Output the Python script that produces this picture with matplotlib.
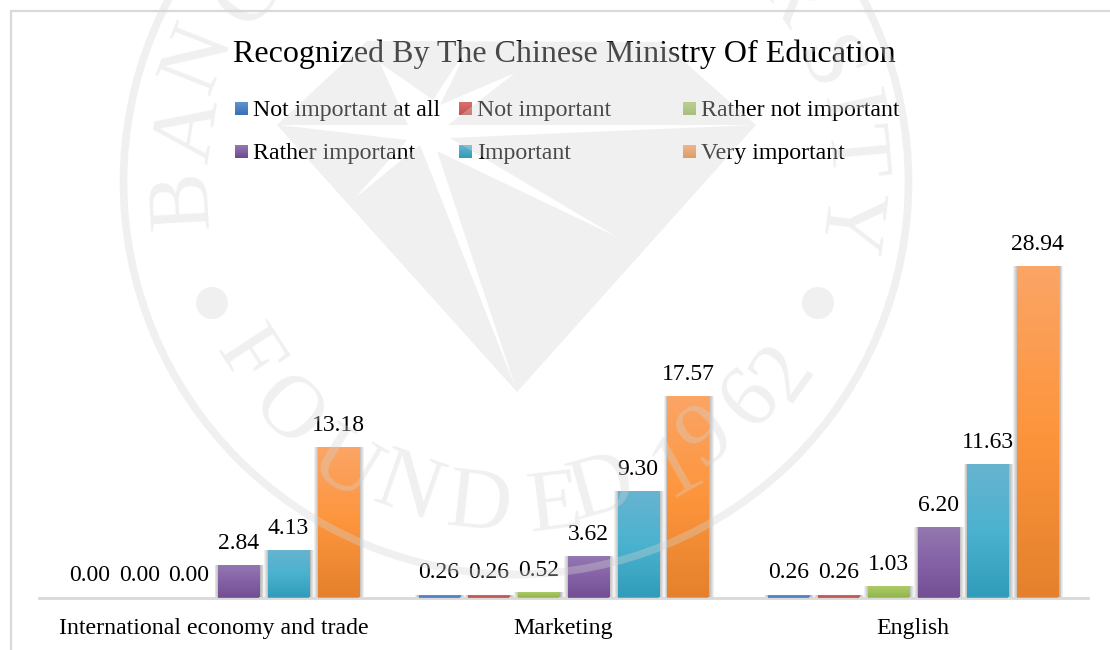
import numpy as np
import matplotlib
matplotlib.use('Agg')
import matplotlib.pyplot as plt
from matplotlib.colors import LinearSegmentedColormap
from matplotlib.patches import Circle, PathPatch
from matplotlib.path import Path

plt.rcParams['font.family'] = ['Liberation Serif', 'DejaVu Serif']

# Dados
title = 'Recognized By The Chinese Ministry Of Education'
categories = ['International economy and trade', 'Marketing', 'English']
series_names = ['Not important at all', 'Not important', 'Rather not important',
                'Rather important', 'Important', 'Very important']
not_important_at_all = [0.00, 0.26, 0.26]
not_important = [0.00, 0.26, 0.26]
rather_not_important = [0.00, 0.52, 1.03]
rather_important = [2.84, 3.62, 6.20]
important = [4.13, 9.30, 11.63]
very_important = [13.18, 17.57, 28.94]
all_series = [not_important_at_all, not_important, rather_not_important,
              rather_important, important, very_important]

# topo, meio, base do gradiente de cada serie
bar_colors = [
    ['#6d9bd6', '#5a8dcf', '#4f80c0'],
    ['#d96f6b', '#d0605c', '#c25450'],
    ['#aecb6c', '#a2c45c', '#93b54f'],
    ['#9479b0', '#8562a6', '#744f94'],
    ['#67b4cf', '#4bb2cf', '#319dba'],
    ['#fba566', '#fd953c', '#e5812c'],
]
legend_colors = [
    ['#5f94d2', '#3a70b5'],
    ['#d96f6b', '#c25450'],
    ['#aecb6c', '#93b54f'],
    ['#9479b0', '#6f4a90'],
    ['#67b4cf', '#319dba'],
    ['#fba566', '#e5812c'],
]
W, H = 1110, 650
fig = plt.figure(figsize=(W / 100, H / 100), dpi=100)
fig.patch.set_facecolor('white')


def fx(px):
    return px / W


def fy(py):
    return 1 - py / H


# eixo principal
base_y = 597.5
px_per_unit = 11.44
top_y = 11
ax = fig.add_axes([fx(39), fy(base_y), fx(1088 - 39), (base_y - top_y) / H])
ax.set_xlim(-0.5, 2.5)
ax.set_ylim(0, (base_y - top_y) / px_per_unit)
ax.patch.set_visible(False)
for s in ['top', 'left', 'right']:
    ax.spines[s].set_visible(False)
ax.spines['bottom'].set_color('#d9d9d9')
ax.spines['bottom'].set_linewidth(2.0)
ax.set_yticks([])
ax.set_xticks(range(len(categories)))
ax.set_xticklabels(categories, fontsize=17.2, color='black')
ax.tick_params(axis='x', length=0, pad=15)

pitch = 0.1424
width = 0.1173
for i, values in enumerate(all_series):
    x = np.arange(len(categories)) + (i - 2.5) * pitch
    cmap = LinearSegmentedColormap.from_list('g', bar_colors[i])
    for xi, v in zip(x, values):
        # sombra
        if v > 0:
            for k in range(1, 6):
                ax.bar(xi + 0.002, v + 0.16, bottom=-0.16, width=width + k * 0.005,
                       color='black', alpha=0.06, linewidth=0, zorder=2, clip_on=False)
            bar = ax.bar(xi, v, width=width, color=bar_colors[i][1], linewidth=0, zorder=3)[0]
            im = ax.imshow(np.linspace(0, 1, 64).reshape(-1, 1), cmap=cmap, aspect='auto',
                           extent=[xi - width / 2, xi + width / 2, 0, v], zorder=3.1)
            im.set_clip_path(bar)
        ax.annotate(f'{v:.2f}', (xi, v), xytext=(0, 15.5), textcoords='offset points',
                    ha='center', va='center', fontsize=17, color='black', zorder=5)
ax.set_xlim(-0.5, 2.5)
ax.set_ylim(0, (base_y - top_y) / px_per_unit)

# camada em pixels: borda, titulo, legenda, marca d'agua
ov = fig.add_axes([0, 0, 1, 1], zorder=10)
ov.set_xlim(0, W)
ov.set_ylim(H, 0)
ov.axis('off')
ov.patch.set_visible(False)

ov.plot([11, 11, W], [H, 11, 11], color='#d9d9d9', lw=1.6, solid_joinstyle='miter', zorder=1)
ov.text(233, 54, title, fontsize=23, color='black', va='center', ha='left', zorder=2)

legend_x = [235, 459, 683]
legend_y = [108.5, 151.5]
for i, name in enumerate(series_names):
    lx = legend_x[i % 3]
    ly = legend_y[i // 3]
    cmap = LinearSegmentedColormap.from_list('l', legend_colors[i])
    ov.imshow(np.linspace(0, 1, 16).reshape(-1, 1), cmap=cmap, aspect='auto',
              extent=[lx, lx + 13, ly + 6.5, ly - 6.5], origin='upper', zorder=2)
    ov.text(lx + 18, ly + 2, name, fontsize=17.2, color='black', va='center', ha='left', zorder=2)
ov.set_xlim(0, W)
ov.set_ylim(H, 0)

# marca d'agua por cima de tudo
wm_color = '#d4d4d4'
wm_alpha = 0.35
cx, cy = 516, 182
ov.add_patch(Circle((cx, cy), 392.5, fill=False, ec=wm_color, lw=5.5, alpha=wm_alpha, zorder=5))

# diamante com a estrela vazada
diamond = [(277, 125), (367, 41), (662, 42), (756, 125), (517, 392)]
star = [(279, 125), (408, 125), (380, 63), (433, 100), (470, 44), (440, 105), (515, 73),
        (448, 125), (753, 125), (450, 138), (617, 237), (437, 151), (516, 389),
        (420, 145), (355, 198), (407, 140)]
star = star[::-1]
verts = diamond + [diamond[0]] + star + [star[0]]
codes = ([Path.MOVETO] + [Path.LINETO] * (len(diamond) - 1) + [Path.CLOSEPOLY]
         + [Path.MOVETO] + [Path.LINETO] * (len(star) - 1) + [Path.CLOSEPOLY])
ov.add_patch(PathPatch(Path(verts, codes), fc=wm_color, ec='none', alpha=wm_alpha, zorder=5))

# pontos
for dot_x in [212, 818]:
    ov.add_patch(Circle((dot_x, 303), 16, fc=wm_color, ec='none', alpha=wm_alpha, zorder=5))

# letras do selo: em cima o topo da letra aponta para fora, embaixo para o centro
seal_letters = ['B', 'A', 'N', 'G', 'R', 'S', 'I', 'T', 'Y',
                'F', 'O', 'U', 'N', 'D', 'E', 'D', '1', '9', '6', '2']
seal_x = [184, 190, 199, 250, 790, 825, 847, 852, 847,
          247, 286, 343, 408, 479, 555, 602, 677, 706, 751, 784]
seal_y = [200, 130, 58, -8, -6, 66, 108, 152, 222,
          358, 413, 467, 490, 507, 507, 490, 467, 437, 400, 373]
for k, (ch, lx, ly) in enumerate(zip(seal_letters, seal_x, seal_y)):
    rot = np.degrees(np.arctan2(lx - cx, ly - cy))
    if k < 9:
        rot += 180
    ov.text(lx, ly, ch, fontsize=64, color=wm_color, alpha=wm_alpha,
            rotation=rot, rotation_mode='anchor', ha='center', va='center', zorder=5)

fig.savefig('out.png', dpi=100)
